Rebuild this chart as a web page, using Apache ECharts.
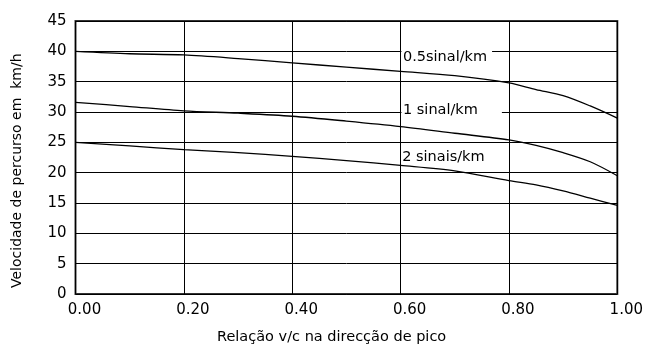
<!DOCTYPE html>
<html>
<head>
<meta charset="utf-8">
<script src="https://cdn.jsdelivr.net/npm/echarts@6/dist/echarts.min.js"></script>
<style>
html,body{margin:0;padding:0;background:#fff;}
#chart{width:646px;height:352px;}
</style>
</head>
<body>
<div id="chart"></div>
<script>
var xValues = [0, 0.1, 0.2, 0.3, 0.4, 0.5, 0.6, 0.7, 0.8, 0.85, 0.9, 0.95, 1.0];
var halfSignal = [40.0, 39.6, 39.4, 38.8, 38.1, 37.4, 36.7, 36.0, 34.8, 33.7, 32.7, 31.0, 29.0];
var oneSignal = [31.6, 30.9, 30.2, 29.8, 29.3, 28.5, 27.6, 26.5, 25.4, 24.5, 23.3, 21.8, 19.5];
var twoSignals = [25.0, 24.4, 23.8, 23.3, 22.7, 22.0, 21.2, 20.3, 18.7, 18.0, 17.0, 15.8, 14.6];
var seriesNames = ['0.5sinal/km', '1 sinal/km', '2 sinais/km'];
var labelPos = [[0.6852, 39.0], [0.6943, 30.3], [0.679, 22.6]];
var xTicks = [0, 0.2, 0.4, 0.6, 0.8, 1.0];
var yTicks = [0, 5, 10, 15, 20, 25, 30, 35, 40, 45];
var xTitle = 'Relação v/c na direcção de pico';
var yTitle = 'Velocidade de percurso em  km/h';

function pairs(ys){ return xValues.map(function(x,i){ return [x, ys[i]]; }); }

var FONT = 'DejaVu Sans';
var labelPads = [[3,5,1,1.5],[2,24,2,1.5],[0,0,0,0]];
var labelBg = ['#fff','#fff','transparent'];

var chart = echarts.init(document.getElementById('chart'), null, {renderer:'canvas'});
var allData = [halfSignal, oneSignal, twoSignals];
var series = allData.map(function(d, i){
  return {
    name: seriesNames[i],
    type: 'line',
    data: pairs(d),
    smooth: 0.3,
    showSymbol: false,
    symbol: 'none',
    lineStyle: {color: '#000', width: 1.3},
    silent: true,
    z: 3,
    markPoint: {
      symbol: 'rect',
      symbolSize: 0,
      silent: true,
      data: [{
        coord: labelPos[i],
        label: {
          show: true,
          position: 'inside',
          formatter: seriesNames[i],
          color: '#000',
          fontFamily: FONT,
          fontSize: 14.5,
          backgroundColor: labelBg[i],
          padding: labelPads[i]
        }
      }]
    }
  };
});

chart.setOption({
  animation: false,
  backgroundColor: '#fff',
  grid: {left: 75.5, right: 24.3, top: 21, bottom: 58, show: true, borderColor: '#333', borderWidth: 2, backgroundColor: 'transparent'},
  xAxis: {
    type: 'value', min: 0, max: 1, interval: 0.2,
    axisLine: {show: false},
    axisTick: {show: false},
    splitLine: {show: true, lineStyle: {color: '#000', width: 1}},
    axisLabel: {
      color: '#000', fontFamily: FONT, fontSize: 15, margin: 9,
      padding: [0,0,0,18],
      formatter: function(v){ return v.toFixed(2); }
    }
  },
  yAxis: {
    type: 'value', min: 0, max: 45, interval: 5,
    axisLine: {show: false},
    axisTick: {show: false},
    splitLine: {show: true, lineStyle: {color: '#000', width: 1}},
    axisLabel: {color: '#000', fontFamily: FONT, fontSize: 15, margin: 9}
  },
  graphic: [
    {type: 'text', left: 217, top: 330, style: {text: xTitle, fill: '#000', font: '14.5px "DejaVu Sans"'}, silent: true},
    {type: 'text', rotation: Math.PI/2, x: 17, y: 288, style: {text: yTitle, fill: '#000', font: '14px "DejaVu Sans"', textAlign: 'left', textVerticalAlign: 'middle'}, silent: true}
  ],
  series: series
});
</script>
</body>
</html>
